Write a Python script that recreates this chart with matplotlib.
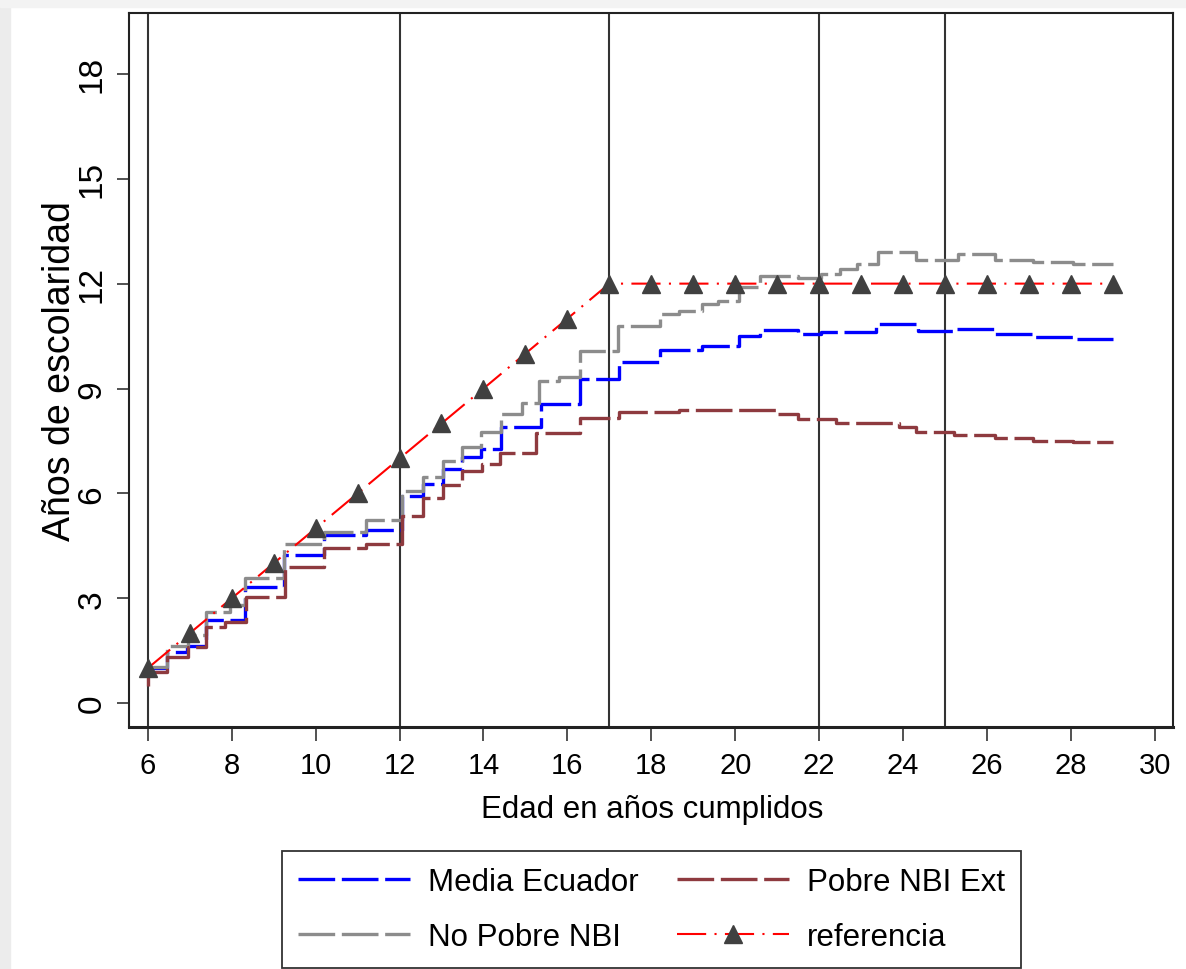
import matplotlib
matplotlib.use('Agg')
import matplotlib.pyplot as plt
from matplotlib import font_manager
from matplotlib.patches import Rectangle

# Data (age in years, years of schooling)
ages_media = [6.0, 6.46, 6.93, 7.38, 8.31, 9.24, 10.2, 11.2, 12.07, 12.55, 13.03, 13.5,
              13.94, 14.41, 15.36, 16.3, 17.23, 18.2, 19.2, 20.08, 20.58, 21.5, 22.04,
              23.36, 24.36, 25.2, 26.2, 27.1, 28.05, 29.0]
media_ecuador = [1.0, 1.47, 1.65, 2.38, 3.33, 4.25, 4.82, 4.95, 5.94, 6.27, 6.7, 7.03,
                 7.27, 7.89, 8.55, 9.27, 9.75, 10.1, 10.22, 10.51, 10.68, 10.56, 10.63,
                 10.84, 10.65, 10.70, 10.56, 10.46, 10.41, 10.41]

ages_nopobre = [6.0, 6.46, 6.95, 7.38, 7.95, 8.31, 9.24, 10.2, 11.2, 12.07, 12.55, 13.03,
                13.5, 13.94, 14.41, 14.93, 15.32, 15.8, 16.3, 17.2, 18.2, 18.67, 19.2,
                19.58, 20.1, 20.58, 21.5, 22.04, 22.5, 22.9, 23.39, 24.3, 25.3, 26.2,
                27.1, 28.05, 29.0]
no_pobre_nbi = [1.05, 1.65, 1.95, 2.61, 2.8, 3.58, 4.55, 4.9, 5.25, 6.08, 6.46, 6.94,
                7.32, 7.75, 8.27, 8.6, 9.22, 9.34, 10.08, 10.8, 11.14, 11.22, 11.41,
                11.5, 11.89, 12.22, 12.17, 12.27, 12.41, 12.55, 12.91, 12.69, 12.84,
                12.69, 12.63, 12.57, 12.57]

ages_pobre = [6.0, 6.0, 6.46, 6.95, 7.38, 7.85, 8.33, 9.26, 10.2, 11.2, 12.07, 12.55,
              13.03, 13.5, 13.97, 14.4, 15.25, 16.3, 17.23, 18.67, 21.0, 21.5, 22.4,
              23.9, 24.3, 25.2, 26.2, 27.1, 28.05, 29.0]
pobre_nbi_ext = [0.5, 0.9, 1.33, 1.62, 2.18, 2.33, 3.05, 3.9, 4.45, 4.55, 5.36, 5.86,
                 6.24, 6.65, 6.84, 7.15, 7.72, 8.15, 8.32, 8.39, 8.27, 8.13, 8.0,
                 7.89, 7.75, 7.68, 7.59, 7.51, 7.46, 7.46]

ages_ref = [6, 7, 8, 9, 10, 11, 12, 13, 14, 15, 16, 17, 18, 19, 20, 21, 22, 23, 24,
            25, 26, 27, 28, 29]
referencia = [1, 2, 3, 4, 5, 6, 7, 8, 9, 10, 11, 12, 12, 12, 12, 12, 12, 12, 12,
              12, 12, 12, 12, 12]

xlines = [6, 12, 17, 22, 25]
xticks = list(range(6, 31, 2))
yticks = [0, 3, 6, 9, 12, 15, 18]

# Fonts: the original text looks horizontally squeezed, use a narrow face if present
names = {f.name for f in font_manager.fontManager.ttflist}
if 'Liberation Sans Narrow' in names:
    hfont = 'Liberation Sans Narrow'
    tick_fs, xlab_fs, leg_fs = 24, 26, 26
else:
    hfont = 'Liberation Sans'
    tick_fs, xlab_fs, leg_fs = 21, 22.5, 22.5
vfont = 'Liberation Sans'
leg_px = leg_fs * 100 / 72

W, H = 1186, 970
fig = plt.figure(figsize=(W / 100, H / 100), dpi=100)
fig.patches.append(Rectangle((0, 0), 10 / W, 1, transform=fig.transFigure,
                             color='#ececec', zorder=0))
fig.patches.append(Rectangle((0, 1 - 8 / H), 1, 8 / H, transform=fig.transFigure,
                             color='#f3f3f3', zorder=0))

ax = fig.add_axes([129 / W, 1 - 728 / H, (1173 - 129) / W, (728 - 14) / H])

for xv in xlines:
    ax.axvline(xv, color='#333333', lw=1.5, zorder=1)

l_media, = ax.plot(ages_media, media_ecuador, drawstyle='steps-post', color='#0000ff',
                   lw=2.4, dashes=(11, 2), label='Media Ecuador', zorder=2)
l_nopobre, = ax.plot(ages_nopobre, no_pobre_nbi, drawstyle='steps-post', color='#8c8c8c',
                     lw=2.4, dashes=(11, 2), label='No Pobre NBI', zorder=2)
l_pobre, = ax.plot(ages_pobre, pobre_nbi_ext, drawstyle='steps-post', color='#8e3a3f',
                   lw=2.4, dashes=(11, 2), label='Pobre NBI Ext', zorder=2)
l_ref, = ax.plot(ages_ref, referencia, color='#ff0000', lw=1.5, dashes=(14, 4, 1, 4),
                 marker='^', ms=13, mfc='#404040', mec='#404040',
                 label='referencia', zorder=3)

ax.set_xlim(5.554, 30.43)
ax.set_ylim(-0.68, 19.74)
ax.set_xticks(xticks)
ax.set_yticks(yticks)
ax.set_xticklabels([str(t) for t in xticks], fontsize=tick_fs, family=hfont)
ax.set_yticklabels([str(t) for t in yticks], fontsize=24, family=vfont,
                   rotation=90, va='center')
ax.tick_params(axis='x', length=10, width=1.2, pad=7, color='#333333')
ax.tick_params(axis='y', length=8.6, width=1.2, pad=7, color='#333333')

for s in ax.spines.values():
    s.set_linewidth(1.5)
    s.set_color('#222222')
ax.spines['bottom'].set_linewidth(2.2)

fig.text(652 / W, 1 - 810 / H, 'Edad en años cumplidos', ha='center', va='center',
         fontsize=xlab_fs, family=hfont)
fig.text(60 / W, 1 - 371 / H, 'Años de escolaridad', ha='center', va='center',
         rotation=90, fontsize=27, family=vfont)

leg = fig.legend([l_media, l_nopobre, l_pobre, l_ref],
                 ['Media Ecuador', 'No Pobre NBI', 'Pobre NBI Ext', 'referencia'],
                 ncol=2, loc='upper left', bbox_to_anchor=(282 / W, 1 - 852 / H),
                 borderaxespad=0, fancybox=False, framealpha=1, edgecolor='#333333',
                 prop={'family': hfont, 'size': leg_fs},
                 handlelength=112 / leg_px, handletextpad=18 / leg_px,
                 columnspacing=38 / leg_px, borderpad=16 / leg_px,
                 labelspacing=0.8)
leg.get_frame().set_linewidth(1.3)

fig.savefig('out.png', dpi=100)
